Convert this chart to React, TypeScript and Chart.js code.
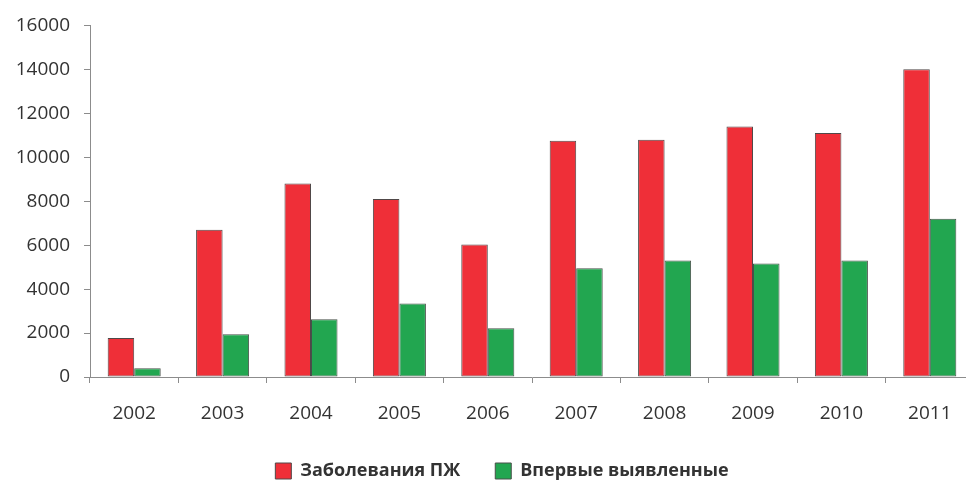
import React, { useEffect, useRef } from "react";
import { Chart, registerables } from "chart.js";

Chart.register(...registerables);

const categories = ["2002", "2003", "2004", "2005", "2006", "2007", "2008", "2009", "2010", "2011"];
const seriesNames = ["Заболевания ПЖ", "Впервые выявленные"];
const diseases = [1770, 6700, 8800, 8100, 6030, 10750, 10800, 11400, 11100, 14000];
const firstDetected = [400, 1950, 2630, 3350, 2220, 4950, 5300, 5170, 5300, 7200];
const yTicks = [0, 2000, 4000, 6000, 8000, 10000, 12000, 14000, 16000];

const FONT = "'Open Sans', 'DejaVu Sans', sans-serif";
const TEXT = "#333333";
const AXIS = "#8c8c8c";

export default function App() {
  const ref = useRef<HTMLCanvasElement | null>(null);

  useEffect(() => {
    if (!ref.current) return;
    const chart = new Chart(ref.current, {
      type: "bar",
      data: {
        labels: categories,
        datasets: [
          {
            label: seriesNames[0],
            data: diseases,
            backgroundColor: "#ef2f38",
            borderColor: "#504848",
            borderWidth: 1,
            borderSkipped: false,
            categoryPercentage: 0.6,
            barPercentage: 1,
          },
          {
            label: seriesNames[1],
            data: firstDetected,
            backgroundColor: "#22a650",
            borderColor: "#48504a",
            borderWidth: 1,
            borderSkipped: false,
            categoryPercentage: 0.6,
            barPercentage: 1,
          },
        ],
      },
      options: {
        animation: false,
        responsive: true,
        maintainAspectRatio: false,
        layout: { padding: { top: 24, right: 6, left: 0, bottom: 0 } },
        plugins: {
          tooltip: { enabled: false },
          legend: {
            position: "bottom",
            labels: {
              color: TEXT,
              font: { family: FONT, size: 18, weight: "bold" },
              boxWidth: 16,
              boxHeight: 16,
              padding: 35,
            },
          },
        },
        scales: {
          x: {
            grid: {
              display: true,
              drawOnChartArea: false,
              drawTicks: true,
              tickLength: 6,
              color: AXIS,
              offset: true,
            },
            border: { display: true, color: AXIS, width: 1 },
            ticks: {
              color: TEXT,
              font: { family: FONT, size: 19 },
              padding: 19,
              maxRotation: 0,
            },
            afterFit: (scale: any) => {
              scale.height = 50;
            },
          },
          y: {
            min: 0,
            max: 16000,
            afterBuildTicks: (scale: any) => {
              scale.ticks = yTicks.map((v) => ({ value: v }));
            },
            grid: {
              display: true,
              drawOnChartArea: false,
              drawTicks: true,
              tickLength: 6,
              color: AXIS,
            },
            border: { display: true, color: AXIS, width: 1 },
            ticks: {
              color: TEXT,
              font: { family: FONT, size: 19 },
              padding: 14,
              callback: (v: any) => String(v),
            },
            afterFit: (scale: any) => {
              scale.width = 90;
            },
          },
          yRight: {
            position: "right",
            min: 0,
            max: 16000,
            grid: { display: false },
            border: { display: false },
            ticks: { display: false },
            afterFit: (scale: any) => {
              scale.width = 30;
            },
          },
        },
      },
    });
    return () => chart.destroy();
  }, []);

  return (
    <div
      style={{
        position: "fixed",
        left: 0,
        top: 0,
        width: 966,
        height: 481,
        overflow: "hidden",
        background: "#fff",
      }}
    >
      <div style={{ position: "relative", width: 1010, height: 490 }}>
        <canvas ref={ref} />
      </div>
    </div>
  );
}
